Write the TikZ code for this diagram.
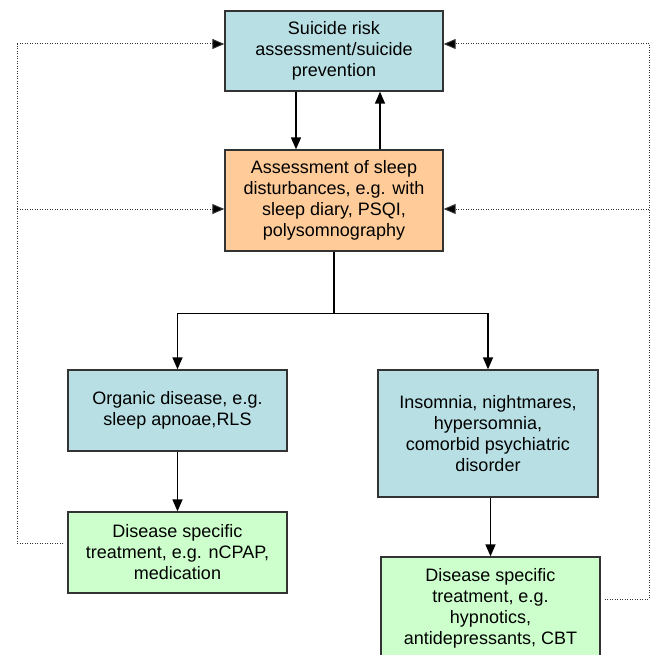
\documentclass[tikz,border=0pt]{standalone}
\usepackage{fontspec}
\setmainfont{Liberation Sans}
\usetikzlibrary{arrows.meta}
\definecolor{boxblue}{HTML}{B8DFE3}
\definecolor{boxorange}{HTML}{FFCC99}
\definecolor{boxgreen}{HTML}{CCFFCC}
\definecolor{edge}{HTML}{333333}
\tikzset{
  box/.style={draw=edge, line width=1.3pt, align=center, inner sep=0pt,
    font=\fontsize{18}{21}\selectfont},
  flow/.style={line width=1.5pt, -{Triangle[length=12pt,width=10pt]}},
  plain/.style={line width=1.5pt},
  fb/.style={dash pattern=on 1pt off 1.5pt, line width=1pt, draw=edge, -{Triangle[length=12pt,width=10pt,fill=black]}},
  fbline/.style={dash pattern=on 1pt off 1.5pt, line width=1pt, draw=edge}
}
\begin{document}
\begin{tikzpicture}[x=1pt,y=-1pt]
\useasboundingbox (0,0) rectangle (651,655);
\node[box, fill=boxblue, minimum width=218pt, minimum height=80pt] (risk) at (334,51)
  {Suicide risk\\assessment/suicide\\prevention};
\node[box, fill=boxorange, minimum width=218pt, minimum height=101pt] (assess) at (334,200.5)
  {Assessment of sleep\\disturbances, e.g. with\\sleep diary, PSQI,\\polysomnography};
\node[box, fill=boxblue, minimum width=219pt, minimum height=81pt] (organic) at (177.5,410.5)
  {Organic disease, e.g.\\sleep apnoae,RLS};
\node[box, fill=boxblue, minimum width=220pt, minimum height=127pt] (insom) at (488,433.5)
  {Insomnia, nightmares,\\hypersomnia,\\comorbid psychiatric\\disorder};
\node[box, fill=boxgreen, minimum width=219pt, minimum height=81pt] (treatL) at (177.5,552.5)
  {Disease specific\\treatment, e.g. nCPAP,\\medication};
\node[box, fill=boxgreen, minimum width=219pt, minimum height=102pt] (treatR) at (490.5,608)
  {Disease specific\\treatment, e.g.\\hypnotics,\\antidepressants, CBT};

% vertical arrows between top boxes
\draw[flow] ([xshift=-38pt]risk.south) -- ([xshift=-38pt]assess.north);
\draw[flow] ([xshift=46pt]assess.north) -- ([xshift=46pt]risk.south);

% branching
\draw[plain] (assess.south) -- ++(0,62) coordinate (split);
\draw[flow] (split) -| (organic.north);
\draw[flow] (split) -| (insom.north);
\draw[flow] (organic.south) -- (treatL.north);
\draw[flow] (insom.south -| treatR.north) -- (treatR.north);

% feedback loops (left)
\draw[fbline] ([xshift=-4pt,yshift=9.5pt]treatL.west) -- (17,543) coordinate (lcorner) -- (17,44) coordinate (ltop);
\draw[fb] (ltop) -- ([yshift=7pt]risk.west);
\draw[fb] (lcorner |- 0,209) -- ([yshift=-8.5pt]assess.west);

% feedback loops (right)
\draw[fbline] ([xshift=4pt,yshift=9pt]treatR.east) -- (649,599) coordinate (rcorner) -- (649,44) coordinate (rtop);
\draw[fb] (rtop) -- ([yshift=7pt]risk.east);
\draw[fb] (rcorner |- 0,209) -- ([yshift=-8.5pt]assess.east);
\end{tikzpicture}
\end{document}
